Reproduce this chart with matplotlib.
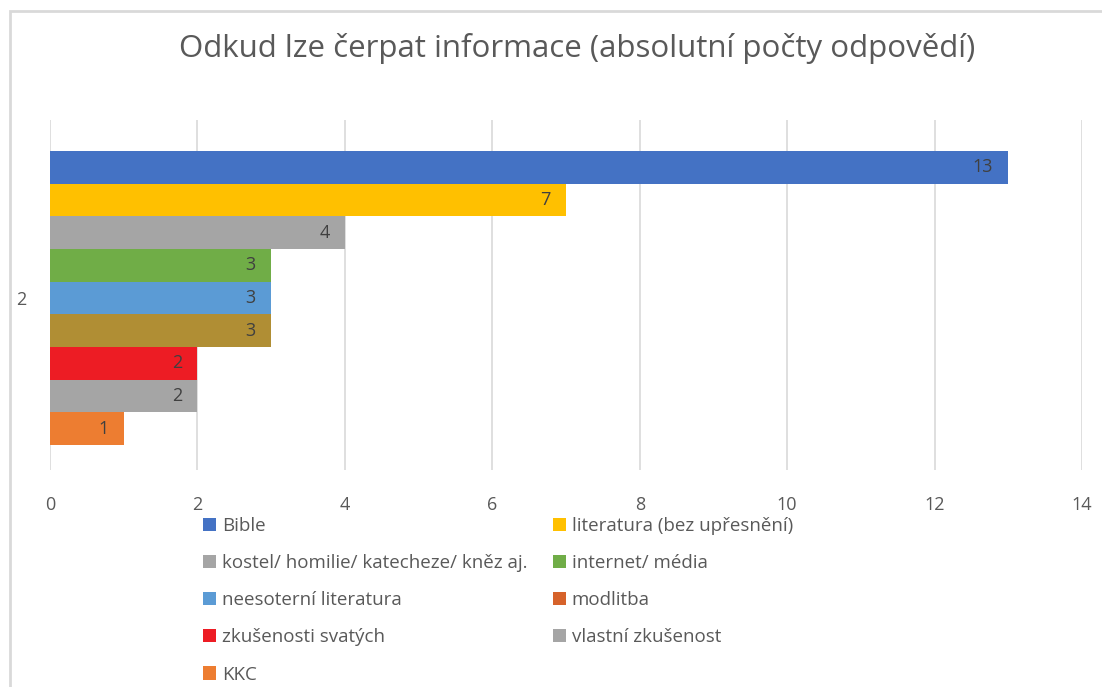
import matplotlib.pyplot as plt
from matplotlib.patches import Patch, Rectangle

# --- data ---
sources = ["Bible", "literatura (bez upřesnění)", "kostel/ homilie/ katecheze/ kněz aj.",
           "internet/ média", "neesoterní literatura", "modlitba",
           "zkušenosti svatých", "vlastní zkušenost", "KKC"]
counts = [13, 7, 4, 3, 3, 3, 2, 2, 1]
bar_colors = ["#4472C4", "#FFC000", "#A5A5A5", "#70AD47", "#5B9BD5",
              "#B08E34", "#ED1C24", "#A5A5A5", "#ED7D31"]
# legend swatch for "modlitba" differs from its bar in the original
legend_colors = ["#4472C4", "#FFC000", "#A5A5A5", "#70AD47", "#5B9BD5",
                 "#D6622A", "#ED1C24", "#A5A5A5", "#ED7D31"]
category = "2"
x_ticks = [0, 2, 4, 6, 8, 10, 12, 14]

plt.rcParams['font.family'] = ['Open Sans', 'DejaVu Sans']
text_col = "#595959"

fig = plt.figure(figsize=(11.02, 6.87), dpi=100)
W, H = 1102, 687

# chart frame
fig.patches.append(Rectangle((10 / W, -0.1), 1.2, 1 - 11 / H + 0.1,
                             transform=fig.transFigure, fill=False,
                             edgecolor="#D9D9D9", linewidth=2))

ax = fig.add_axes([50 / W, 1 - 470 / H, 1032 / W, 350 / H])

n = len(counts)
ypos = [n - 1 - i for i in range(n)]
ax.barh(ypos, counts, height=1.0, color=bar_colors)

for y, v in zip(ypos, counts):
    ax.annotate(str(v), (v, y), xytext=(-11, 0), textcoords="offset points",
                ha="right", va="center", fontsize=13, color="#404040")

ax.set_xlim(0, 14)
ax.set_ylim(-1.27, 9.45)
ax.set_xticks(x_ticks)
ax.set_yticks([(n - 1) / 2])
ax.set_yticklabels([category])
ax.tick_params(axis="x", length=0, pad=19, labelsize=13, labelcolor=text_col)
ax.tick_params(axis="y", length=0, pad=17, labelsize=13, labelcolor=text_col)
ax.grid(axis="x", color="#D9D9D9", linewidth=1.2)
ax.set_axisbelow(True)
for s in ax.spines.values():
    s.set_visible(False)

fig.text(577 / W, 1 - 48 / H, "Odkud lze čerpat informace (absolutní počty odpovědí)",
         ha="center", va="center", fontsize=22.5, color=text_col)

# legend in two columns, row-major like the original
def handles(idx):
    return [Patch(facecolor=legend_colors[i], label=sources[i]) for i in idx]

leg_kw = dict(frameon=False, fontsize=13.5, labelcolor=text_col, handlelength=0.7,
              handleheight=0.7, handletextpad=0.3, labelspacing=1.02,
              borderaxespad=0, borderpad=0)
leg1 = fig.legend(handles=handles([0, 2, 4, 6, 8]), loc="upper left",
                  bbox_to_anchor=(203 / W, 1 - 517 / H), **leg_kw)
leg2 = fig.legend(handles=handles([1, 3, 5, 7]), loc="upper left",
                  bbox_to_anchor=(553 / W, 1 - 517 / H), **leg_kw)

fig.savefig("out.png", dpi=100)
